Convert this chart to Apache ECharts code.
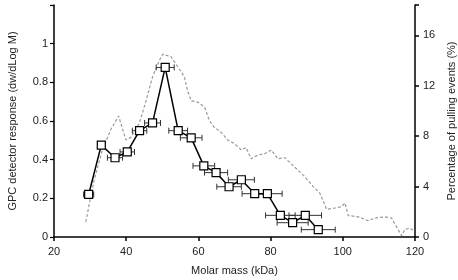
<!DOCTYPE html>
<html>
<head>
<meta charset="utf-8">
<script src="https://cdn.jsdelivr.net/npm/echarts@6/dist/echarts.min.js"></script>
<style>
html, body { margin: 0; padding: 0; background: #fff; }
#main { width: 458px; height: 280px; }
</style>
</head>
<body>
<div id="main"></div>
<script>
// GPC 响应 (左轴) - 摩尔质量
var massPts = [29.6, 33.1, 36.9, 40.3, 43.7, 47.3, 50.8, 54.4, 58.0, 61.5, 64.9, 68.5, 71.9, 75.6, 79.1, 82.7, 86.1, 89.6, 93.2];
var gpcResp = [0.22, 0.475, 0.41, 0.44, 0.55, 0.59, 0.877, 0.55, 0.513, 0.368, 0.333, 0.26, 0.296, 0.224, 0.224, 0.112, 0.074, 0.112, 0.038];
var massErr = [1.4, 1.0, 2.1, 2.0, 2.0, 2.2, 2.5, 2.6, 3.0, 3.0, 3.2, 3.4, 3.6, 3.5, 4.1, 4.1, 4.3, 4.5, 4.7];

// 拉伸事件百分比 (右轴, 虚线)
var pullMass = [28.8, 31.1, 33.4, 35.7, 37.9, 39.9, 41.3, 43.6, 45.5, 47.3, 49.2, 50.1, 52.4, 54.3, 56.1, 57.0, 58.0, 59.8, 61.7, 63.1, 64.4, 66.3, 68.1, 70.0, 71.9, 73.2, 74.6, 76.5, 78.3, 80.2, 82.0, 83.9, 85.7, 87.6, 89.4, 91.8, 93.6, 94.5, 95.5, 97.8, 99.6, 100.6, 101.5, 104.3, 107.0, 108.9, 111.7, 113.5, 114.9, 116.3, 117.2, 118.6, 119.6];
var pullPct = [1.2, 4.5, 6.9, 8.5, 9.6, 7.7, 7.9, 9.0, 10.8, 12.7, 14.0, 14.5, 14.3, 13.5, 12.7, 11.6, 10.8, 10.7, 10.3, 9.2, 8.7, 8.3, 7.7, 7.4, 6.9, 7.1, 6.2, 6.5, 6.6, 6.9, 6.2, 6.3, 5.8, 5.3, 4.8, 4.0, 3.5, 2.9, 2.2, 2.3, 2.4, 2.7, 1.7, 1.6, 1.3, 1.5, 1.6, 1.5, 0.8, 0.1, 0.6, 0.7, 0.5];

var xTicks = { min: 20, max: 120, interval: 20 };
var leftTicks = { min: 0, max: 1.2, interval: 0.2 };
var rightTicks = { min: 0, max: 18.4, interval: 4 };

var font = "'Liberation Sans', Arial, sans-serif";
var txt = { color: '#222', fontSize: 11, fontFamily: font };

var gpcData = massPts.map(function (m, i) { return [m, gpcResp[i]]; });
var errData = massPts.map(function (m, i) { return [m, gpcResp[i], massErr[i]]; });
var pullData = pullMass.map(function (m, i) { return [m, pullPct[i]]; });

var chart = echarts.init(document.getElementById('main'));
var option = {
    animation: false,
    backgroundColor: '#fff',
    grid: { left: 54, right: 43, top: 5, bottom: 43, containLabel: false, outerBoundsMode: 'none' },
    xAxis: {
        type: 'value',
        min: xTicks.min, max: xTicks.max, interval: xTicks.interval,
        name: 'Molar mass (kDa)',
        nameLocation: 'middle', nameGap: 28,
        nameTextStyle: txt,
        axisLine: { lineStyle: { color: '#000', width: 1.5 } },
        axisTick: { show: true, length: 4, lineStyle: { color: '#000', width: 1.5 } },
        axisLabel: Object.assign({ margin: 9 }, txt),
        splitLine: { show: false }
    },
    yAxis: [{
        type: 'value',
        min: leftTicks.min, max: leftTicks.max, interval: leftTicks.interval,
        name: 'GPC detector response (dw/dLog M)',
        nameLocation: 'middle', nameGap: 36,
        nameTextStyle: txt,
        axisLine: { show: true, lineStyle: { color: '#000', width: 1.5 } },
        axisTick: { show: true, length: 4, lineStyle: { color: '#000', width: 1.2 } },
        axisLabel: Object.assign({
            margin: 6,
            formatter: function (v) { return v > 1.05 ? '' : String(Math.round(v * 10) / 10); }
        }, txt),
        splitLine: { show: false }
    }, {
        type: 'value',
        position: 'right',
        min: rightTicks.min, max: rightTicks.max, interval: rightTicks.interval,
        name: 'Percentage of pulling events (%)',
        nameLocation: 'middle', nameGap: 27,
        nameRotate: 90,
        nameTextStyle: txt,
        axisLine: { show: true, lineStyle: { color: '#000', width: 1.5 } },
        axisTick: { show: true, length: 4, lineStyle: { color: '#000', width: 1.5 } },
        axisLabel: Object.assign({
            margin: 8,
            formatter: function (v) { return v % 4 === 0 ? String(v) : ''; }
        }, txt),
        splitLine: { show: false }
    }],
    series: [{
        // 虚线: 百分比
        type: 'line',
        yAxisIndex: 1,
        data: pullData,
        symbol: 'none',
        z: 1,
        lineStyle: { color: '#9a9a9a', width: 1.2, type: [3, 2] }
    }, {
        // 误差棒
        type: 'custom',
        yAxisIndex: 0,
        data: errData,
        z: 2,
        renderItem: function (params, api) {
            var x = api.value(0), y = api.value(1), e = api.value(2);
            var p0 = api.coord([x - e, y]);
            var p1 = api.coord([x + e, y]);
            var st = { stroke: '#333', lineWidth: 1 };
            return {
                type: 'group',
                children: [
                    { type: 'line', shape: { x1: p0[0], y1: p0[1], x2: p1[0], y2: p1[1] }, style: st },
                    { type: 'line', shape: { x1: p0[0], y1: p0[1] - 3, x2: p0[0], y2: p0[1] + 3 }, style: st },
                    { type: 'line', shape: { x1: p1[0], y1: p1[1] - 3, x2: p1[0], y2: p1[1] + 3 }, style: st }
                ]
            };
        }
    }, {
        // GPC 响应
        type: 'line',
        yAxisIndex: 0,
        data: gpcData,
        symbol: 'rect',
        symbolSize: 8,
        z: 3,
        lineStyle: { color: '#000', width: 1.5 },
        itemStyle: { color: '#fff', borderColor: '#000', borderWidth: 1.2 }
    }]
};
chart.setOption(option);
</script>
</body>
</html>
